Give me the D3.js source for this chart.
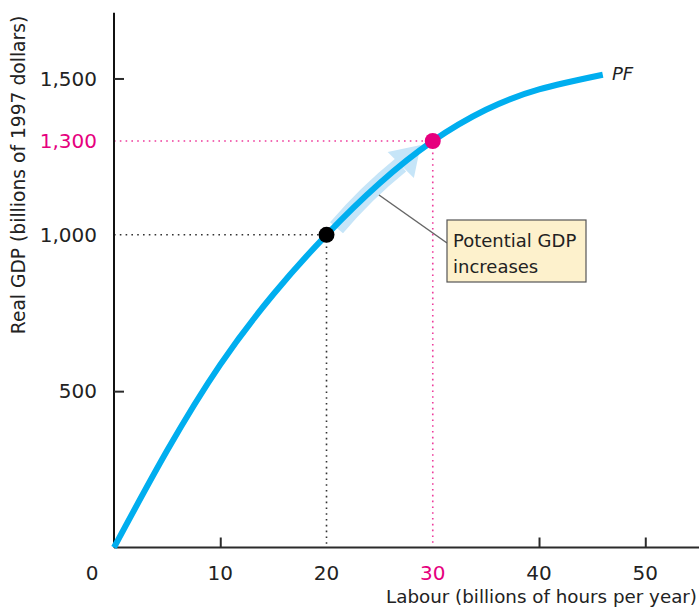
<!DOCTYPE html>
<html>
<head>
<meta charset="utf-8">
<script src="https://cdn.jsdelivr.net/npm/d3@7"></script>
<style>
  html, body { margin: 0; padding: 0; background: #fff; }
  svg { display: block; font-family: "DejaVu Sans", sans-serif; }
</style>
</head>
<body>
<svg id="chart" width="699" height="608"></svg>
<script>
// ---- data ----
const labour = [0, 5, 10, 15, 20, 25, 30, 35, 40, 46];               // billions of hours per year
const realGDP = [0, 310, 585, 810, 1000, 1165, 1300, 1400, 1465, 1512]; // billions of 1997 dollars
const xTicks = [10, 40, 50];
const yTicks = [500, 1500];
const xLabelValues = [10, 20, 30, 40, 50];
const yLabelValues = [500, 1000, 1300, 1500];
const pointA = { x: 20, y: 1000 };
const pointB = { x: 30, y: 1300 };
const calloutText = ["Potential GDP", "increases"];

const blue = "#00AEEF", magenta = "#E6007E", axisCol = "#2b2b2b";

const svg = d3.select("#chart");
const x = d3.scaleLinear().domain([0, 55]).range([114, 698.4]);
const y = d3.scaleLinear().domain([0, 1710]).range([547.5, 12.8]);

const curveData = labour.map((d, i) => ({ x: d, y: realGDP[i] }));
const line = d3.line().x(d => x(d.x)).y(d => y(d.y)).curve(d3.curveNatural);

// ---- dotted guide lines ----
function guides(p, col) {
  svg.append("line").attr("x1", x(0)).attr("x2", x(p.x)).attr("y1", y(p.y)).attr("y2", y(p.y))
    .attr("stroke", col).attr("stroke-width", 1.6).attr("stroke-dasharray", "1.6 4.2");
  svg.append("line").attr("x1", x(p.x)).attr("x2", x(p.x)).attr("y1", y(p.y)).attr("y2", y(0))
    .attr("stroke", col).attr("stroke-width", 1.6).attr("stroke-dasharray", "1.6 4.2");
}
guides(pointA, "#333");
guides(pointB, "#ee3b9c");

// ---- axes ----
const xAxis = d3.axisBottom(x).tickValues(xTicks).tickSize(-10).tickFormat("");
const gx = svg.append("g").attr("transform", `translate(0,${y(0)})`).call(xAxis);
gx.select(".domain").attr("stroke", axisCol).attr("stroke-width", 2).attr("d", `M${x(0)},0H699`);
gx.selectAll(".tick line").attr("stroke", axisCol).attr("stroke-width", 2);

const yAxis = d3.axisLeft(y).tickValues(yTicks).tickSize(-10).tickFormat("");
const gy = svg.append("g").attr("transform", `translate(${x(0)},0)`).call(yAxis);
gy.select(".domain").attr("stroke", "#111").attr("stroke-width", 2).attr("d", `M0,${y(0)}V12.8`);
gy.selectAll(".tick line").attr("stroke", axisCol).attr("stroke-width", 2);

// tick labels
svg.append("g").selectAll("text").data(xLabelValues).join("text")
  .attr("x", d => x(d)).attr("y", 580).attr("text-anchor", "middle")
  .attr("font-size", 20).attr("fill", d => d === pointB.x ? magenta : "#222")
  .text(d => d);
svg.append("text").attr("x", 92).attr("y", 580).attr("text-anchor", "middle")
  .attr("font-size", 20).attr("fill", "#222").text("0");
svg.append("g").selectAll("text").data(yLabelValues).join("text")
  .attr("x", 97).attr("y", d => y(d)).attr("dy", "0.36em").attr("text-anchor", "end")
  .attr("font-size", 20).attr("fill", d => d === pointB.y ? magenta : "#222")
  .text(d => d3.format(",")(d));

// axis titles
svg.append("text").attr("x", 697).attr("y", 603).attr("text-anchor", "end")
  .attr("font-size", 18.3).attr("fill", "#222").text("Labour (billions of hours per year)");
svg.append("text").attr("transform", "translate(25,175) rotate(-90)").attr("text-anchor", "middle")
  .attr("font-size", 18.7).attr("fill", "#222").text("Real GDP (billions of 1997 dollars)");

// ---- arrow (light band with head) ----
{
  const ax = x(pointA.x), ay = y(pointA.y), bx = x(pointB.x), by = y(pointB.y);
  const s = [ax + 10, ay - 7];          // band start
  const e = [bx - 32, by + 24];         // head base centre
  const tip = [bx - 12, by + 4];
  const c = [(s[0] + e[0]) / 2 - 3, (s[1] + e[1]) / 2 - 3];
  svg.append("path").attr("d", `M${s[0]},${s[1]}Q${c[0]},${c[1]} ${e[0]},${e[1]}`)
    .attr("fill", "none").attr("stroke", "#c6e5f8").attr("stroke-width", 17);
  const dx = tip[0] - e[0], dy = tip[1] - e[1], L = Math.hypot(dx, dy);
  const nx = -dy / L, ny = dx / L, hw = 18.5;
  svg.append("path")
    .attr("d", `M${e[0] + nx * hw},${e[1] + ny * hw}L${tip[0]},${tip[1]}L${e[0] - nx * hw},${e[1] - ny * hw}Z`)
    .attr("fill", "#c6e5f8");
}

// ---- PF curve ----
svg.append("path").attr("d", line(curveData)).attr("fill", "none")
  .attr("stroke", blue).attr("stroke-width", 6);
svg.append("text").attr("x", 612).attr("y", 80).attr("font-size", 18)
  .attr("font-style", "italic").attr("fill", "#222").text("PF");

// ---- points ----
svg.append("circle").attr("cx", x(pointA.x)).attr("cy", y(pointA.y)).attr("r", 8).attr("fill", "#000");
svg.append("circle").attr("cx", x(pointB.x)).attr("cy", y(pointB.y)).attr("r", 8).attr("fill", magenta);

// ---- callout ----
const boxX = 447, boxY = 220, boxW = 139, boxH = 62;
svg.append("line").attr("x1", 379).attr("y1", 195).attr("x2", boxX).attr("y2", boxY + 23)
  .attr("stroke", "#666").attr("stroke-width", 1.5);
svg.append("rect").attr("x", boxX).attr("y", boxY).attr("width", boxW).attr("height", boxH)
  .attr("fill", "#fdf1cc").attr("stroke", "#555").attr("stroke-width", 1.2);
svg.append("g").selectAll("text").data(calloutText).join("text")
  .attr("x", boxX + 6).attr("y", (d, i) => boxY + 27 + i * 26)
  .attr("font-size", 18).attr("fill", "#222").text(d => d);
</script>
</body>
</html>
